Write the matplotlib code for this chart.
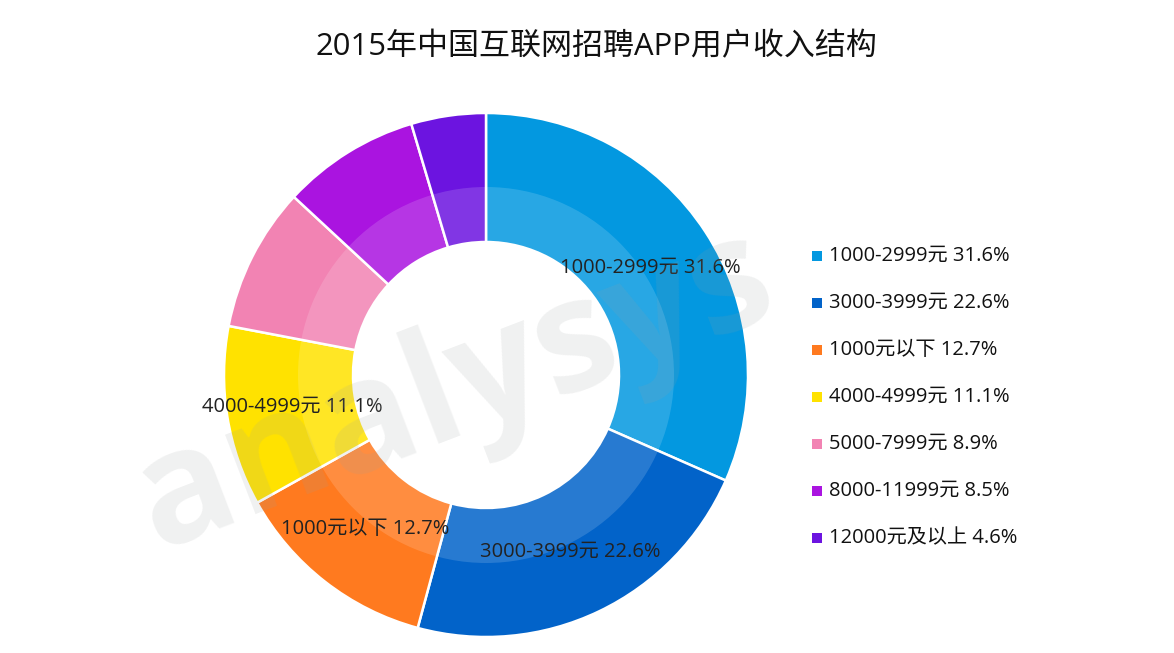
import numpy as np
import matplotlib.pyplot as plt
from matplotlib.patches import Wedge

plt.rcParams['font.family'] = ['Open Sans', 'Noto Sans CJK SC', 'DejaVu Sans']

# dados
categorias = ["1000-2999元", "3000-3999元", "1000元以下", "4000-4999元",
              "5000-7999元", "8000-11999元", "12000元及以上"]
valores = [31.6, 22.6, 12.7, 11.1, 8.9, 8.5, 4.6]
cores = ["#0398e0", "#0263c9", "#ff7a1f", "#ffe200", "#f283b3", "#aa14e0", "#6c14e0"]
titulo = "2015年中国互联网招聘APP用户收入结构"

W, H = 1174, 653
fig = plt.figure(figsize=(W / 100, H / 100), dpi=100)

cx, cy, R = 486, 375, 262
ax = fig.add_axes([(cx - R) / W, (H - cy - R) / H, 2 * R / W, 2 * R / H])
r_int = 133 / R

wedges, _ = ax.pie(valores, colors=cores, startangle=90, counterclock=False, radius=1,
                   wedgeprops=dict(width=1 - r_int, edgecolor="white", linewidth=1.8))

# faixa interna mais clara
ax.add_patch(Wedge((0, 0), 188 / R, 0, 360, width=(188 - 133) / R,
                   facecolor="white", alpha=0.15, edgecolor="none", zorder=3))

# rótulos dentro das 4 maiores fatias
for w, cat, v in zip(wedges[:4], categorias[:4], valores[:4]):
    ang = np.deg2rad((w.theta1 + w.theta2) / 2)
    rr = 196 / R
    ax.text(rr * np.cos(ang), rr * np.sin(ang), f"{cat} {v}%", ha="center", va="center",
            fontsize=14.5, color="#222222", zorder=5)

ax.set_xlim(-1, 1)
ax.set_ylim(-1, 1)
ax.set_aspect("equal")
ax.axis("off")

# marca d'água
fig.text(455 / W, 1 - 392 / H, "analysys", fontsize=112, fontweight="bold", color="#9aa0a0",
         alpha=0.15, rotation=21, ha="center", va="center", zorder=10)

fig.text(596 / W, 1 - 47 / H, titulo, fontsize=22.3, ha="center", va="center", color="#111111")

# legenda
y0, passo = 256, 47
for i, (cat, v, c) in enumerate(zip(categorias, valores, cores)):
    y = y0 + i * passo
    fig.patches.append(plt.Rectangle((812 / W, 1 - (y + 5) / H), 10 / W, 10 / H,
                                     facecolor=c, edgecolor="none", transform=fig.transFigure))
    fig.text(829 / W, 1 - y / H, f"{cat} {v}%", fontsize=14.5, va="center", ha="left",
             color="#111111")

fig.savefig("out.png", dpi=100, facecolor="white")
